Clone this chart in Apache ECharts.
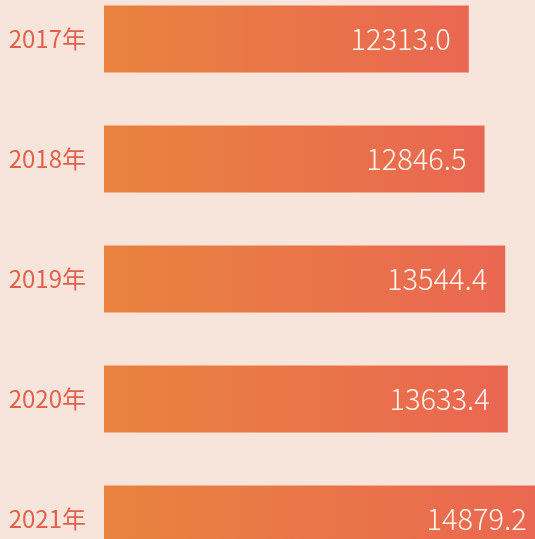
<!DOCTYPE html>
<html>
<head>
<meta charset="utf-8">
<script src="https://cdn.jsdelivr.net/npm/echarts@6/dist/echarts.min.js"></script>
<style>
  html, body { margin: 0; padding: 0; background: #f7e5dc; overflow: hidden; }
  /* the original picture is cropped: the chart runs past the right and bottom edges */
  #chart { width: 580px; height: 600px; margin-top: -21px; }
</style>
</head>
<body>
<div id="chart"></div>
<script>
const years = ['2017年', '2018年', '2019年', '2020年', '2021年']
const values = [12313.0, 12846.5, 13544.4, 13633.4, 14879.2]

const chart = echarts.init(document.getElementById('chart'))

chart.setOption({
  backgroundColor: '#f7e5dc',
  animation: false,
  grid: { left: 104, top: 0, width: 474, height: 600 },
  xAxis: {
    type: 'value',
    min: 0,
    max: 16000,
    show: false
  },
  yAxis: {
    type: 'category',
    data: years,
    inverse: true,
    axisLine: { show: false },
    axisTick: { show: false },
    axisLabel: {
      margin: 18,
      fontSize: 24,
      color: '#e3614a',
      fontFamily: 'Noto Sans CJK SC'
    }
  },
  series: [{
    type: 'bar',
    data: values,
    barWidth: 67,
    itemStyle: {
      color: new echarts.graphic.LinearGradient(0, 0, 1, 0, [
        { offset: 0, color: '#e8833e' },
        { offset: 1, color: '#ea6752' }
      ])
    },
    label: {
      show: true,
      position: 'insideRight',
      distance: 18,
      color: '#fff6ee',
      fontSize: 29,
      fontWeight: 300,
      fontFamily: 'Noto Sans CJK SC',
      formatter: p => p.value.toFixed(1)
    }
  }]
})
</script>
</body>
</html>
